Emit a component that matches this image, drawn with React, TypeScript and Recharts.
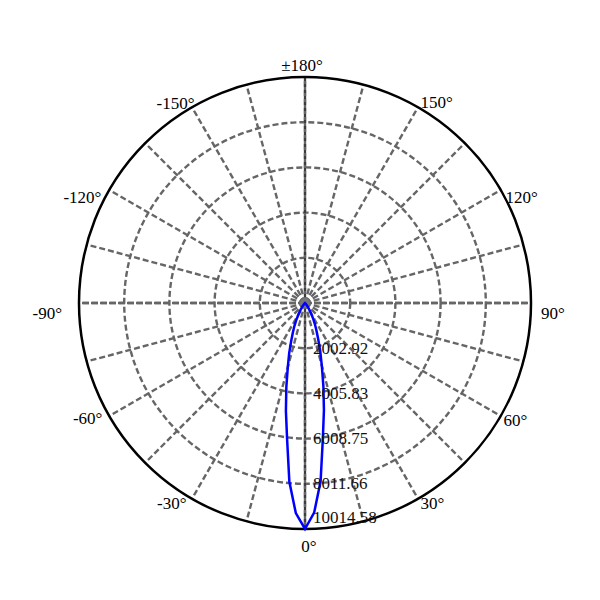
import { RadarChart, Radar, PolarGrid, PolarAngleAxis, PolarRadiusAxis } from "recharts";

// measured beam, angles in degrees (0 = nadir, counted counter-clockwise, 360 = 0), candela
const rightAngles = [0, 2.5, 5, 7.5, 10, 12.5, 15, 17.5, 20, 22.5, 25, 27.5, 30, 32.5, 35, 37.5, 40, 42.5, 45];
const rightCd = [10014.58, 9300, 7930, 6060, 4830, 3760, 2880, 2250, 1720, 1330, 1040, 780, 540, 370, 240, 140, 80, 40, 15];
const leftAngles = [315, 317.5, 320, 322.5, 325, 327.5, 330, 332.5, 335, 337.5, 340, 342.5, 345, 347.5, 350, 352.5, 355, 357.5, 360];
const leftCd = [15, 40, 85, 150, 250, 390, 560, 810, 1090, 1400, 1790, 2330, 2950, 3820, 4870, 6080, 7950, 9320, 10014.58];

const radiusTicks = [2002.92, 4005.83, 6008.75, 8011.66, 10014.58];
const maxCd = 10014.58;

const angleTicks = [0, 30, 60, 90, 120, 150, 180, 210, 240, 270, 300, 330];
const angleLabels: Record<number, string> = {
  0: "0°", 30: "30°", 60: "60°", 90: "90°", 120: "120°", 150: "150°",
  180: "±180°", 210: "-150°", 240: "-120°", 270: "-90°", 300: "-60°", 330: "-30°",
};

// one row per 2.5° around the full circle; no light outside the measured beam
const step = 2.5;
const data = Array.from({ length: 145 }, (_, i) => {
  const a = i * step;
  const r = rightAngles.indexOf(a);
  const l = leftAngles.indexOf(a);
  return { angle: a, cd: r >= 0 ? rightCd[r] : l >= 0 ? leftCd[l] : 0 };
});

const font = "'Liberation Serif', 'Times New Roman', serif";

const labelPos: Record<number, [string, number, number]> = {
  0: ["middle", 4, 16],
  30: ["start", 2, 4],
  60: ["start", 2, 4],
  90: ["start", 9, 10],
  120: ["start", 4, 8],
  150: ["start", 2, -4],
  180: ["middle", -3, -11],
  210: ["end", 3, -3],
  240: ["end", -7, 8],
  270: ["end", -16, 10],
  300: ["end", -6, 2],
  330: ["end", -5, 4],
};

const AngleTick = (props: any) => {
  const v = props.payload.value;
  const label = angleLabels[v];
  if (!label) return null;
  const [anchor, dx, dy] = labelPos[v];
  return (
    <text x={props.x + dx} y={props.y + dy} textAnchor={anchor as any} dominantBaseline="central"
      fontFamily={font} fontSize={17} fill="#000">
      {label}
    </text>
  );
};

const RadiusTick = (props: any) => {
  const last = props.payload.value === maxCd;
  return (
    <text x={props.x + 8} y={props.y + (last ? -11 : 0)} textAnchor="start" dominantBaseline="central"
      fontFamily={font} fontSize={17} fill="#111">
      {props.payload.value.toFixed(2)}
    </text>
  );
};

const spokes = [0, 15, 30, 45, 60, 75, 90, 105, 120, 135, 150, 165, 180, 195, 210, 225, 240, 255, 270, 285, 300, 315, 330, 345];
const R = 226;

export default function App() {
  return (
    <RadarChart width={600} height={600} data={data} cx={297} cy={295} outerRadius={R}
      startAngle={-90} endAngle={270} margin={{ top: 0, right: 0, bottom: 0, left: 0 }}>
      <PolarGrid gridType="circle" polarAngles={spokes} polarRadius={[R * 0.2, R * 0.4, R * 0.6, R * 0.8]}
        stroke="#666" strokeWidth={2.4} strokeDasharray="6 3" />
      <PolarGrid gridType="circle" polarAngles={[0, 180]} polarRadius={[]} stroke="#666" strokeWidth={2.4} strokeDasharray="7 2" />
      <PolarGrid gridType="circle" polarAngles={[90, 270]} polarRadius={[]} stroke="#666" strokeWidth={2.4} />
      <PolarGrid gridType="circle" polarAngles={[90, 270]} polarRadius={[]} stroke="#000" strokeWidth={0.8} strokeDasharray="3 3" />
      <PolarGrid gridType="circle" radialLines={false} polarAngles={[]} polarRadius={[2.5]} stroke="#777" strokeWidth={5} />
      <PolarGrid gridType="circle" radialLines={false} polarAngles={[]} polarRadius={[R]} stroke="#000" strokeWidth={2.5} />
      <PolarAngleAxis dataKey="angle" type="number" domain={[0, 360]} ticks={angleTicks} tick={<AngleTick />}
        tickSize={1} axisLine={false} tickLine={false} />
      <PolarRadiusAxis angle={-90} type="number" domain={[0, maxCd]} ticks={radiusTicks} tick={<RadiusTick />}
        axisLine={false} tickLine={false} />
      <Radar dataKey="cd" stroke="#0000ff" strokeWidth={2.5} fill="none" isAnimationActive={false} />
    </RadarChart>
  );
}
